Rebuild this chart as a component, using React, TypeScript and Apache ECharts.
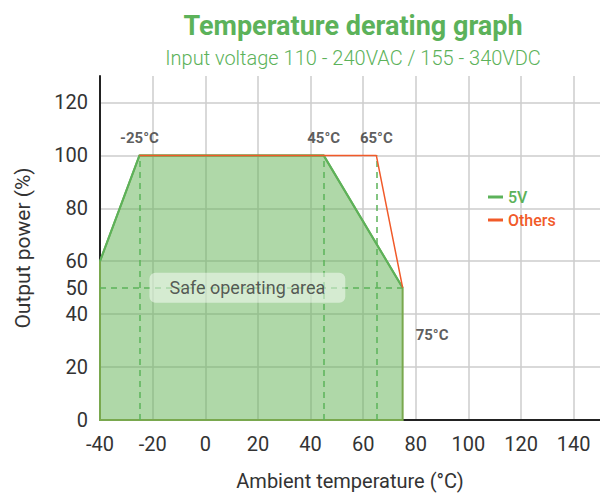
import React, { useEffect, useRef } from "react";
import * as echarts from "echarts";

const FONT = "Roboto, 'Noto Sans', sans-serif";

const titleText = "Temperature derating graph";
const subtitleText = "Input voltage 110 - 240VAC / 155 - 340VDC";
const xName = "Ambient temperature (°C)";
const yName = "Output power (%)";

const xMin = -40;
const xMax = 150;
const yMin = 0;
const yMax = 130;
const xTicks = [-40, -20, 0, 20, 40, 60, 80, 100, 120, 140];
const xGrid = [-40, -20, 0, 20, 40, 60, 80, 100, 120, 140];
const yTicks = [0, 20, 40, 50, 60, 80, 100, 120];
const yGrid = [0, 20, 40, 60, 80, 100, 120];

const fiveV = [[-40, 60], [-25, 100], [45, 100], [75, 50]];
const others = [[-25, 100], [65, 100], [75, 50]];
const safeArea = [[-40, 0], [-40, 60], [-25, 100], [45, 100], [75, 50], [75, 0]];
const markerTemps = [-25, 45, 65];
const markerTop = 100;
const limitPower = 50;
const limitTempRange = [-40, 75];

const tempLabels = [
  { value: [-25, 100], text: "-25°C", pos: "top" },
  { value: [45, 100], text: "45°C", pos: "top" },
  { value: [65, 100], text: "65°C", pos: "top" },
  { value: [75, 32], text: "75°C", pos: "right" },
];
const safeLabel = { value: [16, 50], text: "Safe operating area" };

const GREEN = "#5cb25a";
const ORANGE = "#f15a29";

export default function App() {
  const ref = useRef<HTMLDivElement>(null);
  useEffect(() => {
    if (!ref.current) return;
    const chart = echarts.init(ref.current, null, { renderer: "svg" });
    const option: any = {
      animation: false,
      backgroundColor: "#ffffff",
      textStyle: { fontFamily: FONT },
      graphic: [
        {
          type: "text",
          x: 353,
          y: 26,
          style: {
            text: titleText,
            fill: GREEN,
            font: `bold 27px ${FONT}`,
            textAlign: "center",
            textVerticalAlign: "middle",
          },
        },
        {
          type: "text",
          x: 353,
          y: 58,
          style: {
            text: subtitleText,
            fill: GREEN,
            font: `300 20px ${FONT}`,
            textAlign: "center",
            textVerticalAlign: "middle",
          },
        },
      ],
      legend: {
        orient: "vertical",
        left: 483,
        top: 184,
        itemWidth: 15,
        itemHeight: 3,
        itemGap: 7,
        icon: "rect",
        selectedMode: false,
        textStyle: { fontSize: 16, fontFamily: FONT, fontWeight: 500 },
        data: [
          { name: "5V", textStyle: { color: GREEN } },
          { name: "Others", textStyle: { color: ORANGE } },
        ],
      },
      grid: { left: 100, right: 0, top: 76, bottom: 82, containLabel: false },
      xAxis: {
        type: "value",
        min: xMin,
        max: xMax,
        interval: 20,
        name: xName,
        nameLocation: "middle",
        nameGap: 51,
        nameTextStyle: { fontSize: 20, color: "#333", fontFamily: FONT },
        axisLine: { show: true, onZero: false, lineStyle: { color: "#222", width: 2 } },
        axisTick: { show: false, customValues: xGrid },
        axisLabel: {
          customValues: xTicks,
          fontSize: 20,
          color: "#333",
          margin: 14,
          fontFamily: FONT,
        },
        splitLine: { show: true, lineStyle: { color: "#cccccc", width: 1.5 } },
      },
      yAxis: {
        type: "value",
        min: yMin,
        max: yMax,
        interval: 20,
        name: yName,
        nameLocation: "middle",
        nameGap: 67,
        nameTextStyle: { fontSize: 21, color: "#333", fontFamily: FONT },
        axisLine: { show: true, onZero: false, lineStyle: { color: "#222", width: 2 } },
        axisTick: { show: false, customValues: yGrid },
        axisLabel: {
          customValues: yTicks,
          fontSize: 20,
          color: "#333",
          margin: 12,
          fontFamily: FONT,
        },
        splitLine: { show: true, lineStyle: { color: "#cccccc", width: 1.5 } },
      },
      series: [
        {
          type: "custom",
          name: "Safe area",
          data: safeArea,
          encode: { x: 0, y: 1 },
          z: 2,
          silent: true,
          renderItem: (params: any, api: any) => {
            if (params.dataIndex !== 0) return null;
            const pts = safeArea.map((p) => api.coord(p));
            return {
              type: "polygon",
              shape: { points: pts },
              style: {
                fill: "rgba(96,178,82,0.5)",
                stroke: "#79a84e",
                lineWidth: 2,
              },
            };
          },
        },
        {
          type: "line",
          name: "5V",
          data: fiveV,
          symbol: "none",
          z: 4,
          lineStyle: { color: GREEN, width: 2 },
          itemStyle: { color: GREEN },
          markLine: {
            silent: true,
            symbol: "none",
            label: { show: false },
            lineStyle: { color: GREEN, width: 1.5, type: [6, 5] },
            data: [
              ...markerTemps.map((t) => [{ coord: [t, 0] }, { coord: [t, markerTop] }]),
              [{ coord: [limitTempRange[0], limitPower] }, { coord: [limitTempRange[1], limitPower] }],
            ],
          },
        },
        {
          type: "line",
          name: "Others",
          data: others,
          symbol: "none",
          z: 5,
          lineStyle: { color: ORANGE, width: 1.5 },
          itemStyle: { color: ORANGE },
        },
        {
          type: "scatter",
          name: "labels",
          symbolSize: 0,
          z: 6,
          silent: true,
          data: tempLabels.map((l) => ({
            value: l.value,
            label: {
              show: true,
              formatter: l.text,
              position: l.pos,
              distance: l.pos === "top" ? 10 : 13,
              fontSize: 15,
              fontWeight: "bold",
              color: "#333",
              fontFamily: FONT,
            },
          })),
        },
        {
          type: "scatter",
          name: "safe",
          symbolSize: 0,
          z: 7,
          silent: true,
          data: [
            {
              value: safeLabel.value,
              label: {
                show: true,
                formatter: safeLabel.text,
                position: "inside",
                fontSize: 18,
                color: "#333",
                fontFamily: FONT,
                backgroundColor: "rgba(255,255,255,0.6)",
                borderRadius: 6,
                padding: [6, 20, 6, 20],
              },
            },
          ],
        },
      ],
    };
    chart.setOption(option);
    return () => chart.dispose();
  }, []);
  return (
    <div
      ref={ref}
      style={{ position: "absolute", left: 0, top: 0, width: 600, height: 502 }}
    />
  );
}
